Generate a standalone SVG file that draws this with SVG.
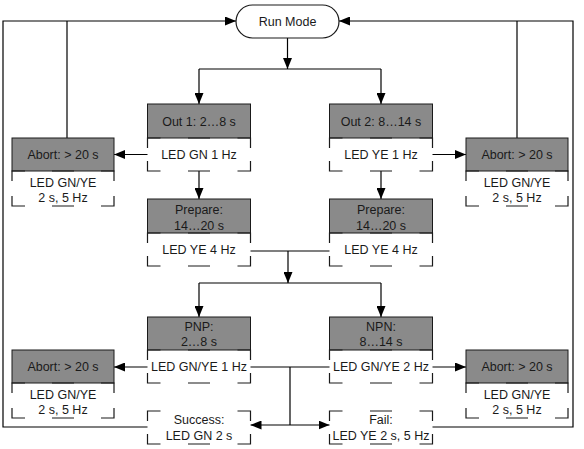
<svg xmlns="http://www.w3.org/2000/svg" width="584" height="449" viewBox="0 0 584 449">
<defs>
<marker id="arr" markerUnits="userSpaceOnUse" markerWidth="11" markerHeight="9" refX="11" refY="4.5" orient="auto">
<path d="M0,0 L11,4.5 L0,9 z" fill="#000"/>
</marker>
<style>
.g{fill:#8a8a8a;stroke:#1a1a1a;stroke-width:1}
.d{fill:none;stroke:#1a1a1a;stroke-width:1.2}
.t{font-family:"Liberation Sans",Arial,sans-serif;font-size:12.5px;fill:#1a1a1a;text-anchor:middle}
.c{fill:none;stroke:#000;stroke-width:1.2}
.a{marker-end:url(#arr)}
</style>
</defs>
<rect width="584" height="449" fill="#fff"/>
<g id="connectors">
<path class="c a" d="M147.5,427 H3 V21 H236"/>
<path class="c" d="M67,138 V21"/>
<path class="c a" d="M432.5,427 H573 V21 H339"/>
<path class="c" d="M517,138 V21"/>
<path class="c a" d="M287.5,38 V69"/>
<path class="c" d="M199,69 H381"/>
<path class="c a" d="M199,69 V104"/>
<path class="c a" d="M381,69 V104"/>
<path class="c a" d="M147.5,154.5 H114"/>
<path class="c a" d="M432.5,154.5 H466"/>
<path class="c a" d="M199,171 V199"/>
<path class="c a" d="M381,171 V199"/>
<path class="c" d="M250.5,251 H329.5"/>
<path class="c a" d="M288,251 V283"/>
<path class="c" d="M199,283 H381"/>
<path class="c a" d="M199,283 V317"/>
<path class="c a" d="M381,283 V317"/>
<path class="c a" d="M147.5,367 H114"/>
<path class="c a" d="M432.5,367 H466"/>
<path class="c" d="M250.5,367 H329.5 M290,367 V425"/>
<path class="c a" d="M290,425 H250.5"/>
<path class="c a" d="M290,425 H329.5"/>
</g>
<g id="run-mode">
<rect x="236" y="5" width="103" height="33" rx="16.5" fill="#fff" stroke="#1a1a1a" stroke-width="1.2"/>
<text class="t" x="287.5" y="26">Run Mode</text>
</g>
<g id="out1">
<rect class="g" x="147.5" y="104" width="103" height="34"/>
<text class="t" x="199" y="125.5">Out 1: 2…8 s</text>
<path class="d" d="M147.5,148V138H160.5M188,138h22M237.5,138H250.5V148M147.5,161V171H160.5M188,171h22M237.5,171H250.5V161"/>
<text class="t" x="199" y="159">LED GN 1 Hz</text>
</g>
<g id="out2">
<rect class="g" x="329.5" y="104" width="103" height="34"/>
<text class="t" x="381" y="125.5">Out 2: 8…14 s</text>
<path class="d" d="M329.5,148V138H342.5M370,138h22M419.5,138H432.5V148M329.5,161V171H342.5M370,171h22M419.5,171H432.5V161"/>
<text class="t" x="381" y="159">LED YE 1 Hz</text>
</g>
<g id="abort-top-left">
<rect class="g" x="12" y="138" width="102" height="33"/>
<text class="t" x="63" y="159">Abort: &gt; 20 s</text>
<path class="d" d="M12,181V171H25M52,171h22M101,171H114V181M12,196V206H25M52,206h22M101,206H114V196"/>
<text class="t" x="63" y="187">LED GN/YE</text>
<text class="t" x="63" y="202">2 s, 5 Hz</text>
</g>
<g id="abort-top-right">
<rect class="g" x="466" y="138" width="102" height="33"/>
<text class="t" x="517" y="159">Abort: &gt; 20 s</text>
<path class="d" d="M466,181V171H479M506,171h22M555,171H568V181M466,196V206H479M506,206h22M555,206H568V196"/>
<text class="t" x="517" y="187">LED GN/YE</text>
<text class="t" x="517" y="202">2 s, 5 Hz</text>
</g>
<g id="prepare1">
<rect class="g" x="147.5" y="199" width="103" height="34"/>
<text class="t" x="199" y="214">Prepare:</text>
<text class="t" x="199" y="229.5">14…20 s</text>
<path class="d" d="M147.5,243V233H160.5M188,233h22M237.5,233H250.5V243M147.5,256V266H160.5M188,266h22M237.5,266H250.5V256"/>
<text class="t" x="199" y="254">LED YE 4 Hz</text>
</g>
<g id="prepare2">
<rect class="g" x="329.5" y="199" width="103" height="34"/>
<text class="t" x="381" y="214">Prepare:</text>
<text class="t" x="381" y="229.5">14…20 s</text>
<path class="d" d="M329.5,243V233H342.5M370,233h22M419.5,233H432.5V243M329.5,256V266H342.5M370,266h22M419.5,266H432.5V256"/>
<text class="t" x="381" y="254">LED YE 4 Hz</text>
</g>
<g id="pnp">
<rect class="g" x="147.5" y="317" width="103" height="33"/>
<text class="t" x="199" y="331">PNP:</text>
<text class="t" x="199" y="346">2…8 s</text>
<path class="d" d="M147.5,360V350H160.5M188,350h22M237.5,350H250.5V360M147.5,373V383H160.5M188,383h22M237.5,383H250.5V373"/>
<text class="t" x="199" y="371">LED GN/YE 1 Hz</text>
</g>
<g id="npn">
<rect class="g" x="329.5" y="317" width="103" height="33"/>
<text class="t" x="381" y="331">NPN:</text>
<text class="t" x="381" y="346">8…14 s</text>
<path class="d" d="M329.5,360V350H342.5M370,350h22M419.5,350H432.5V360M329.5,373V383H342.5M370,383h22M419.5,383H432.5V373"/>
<text class="t" x="381" y="371">LED GN/YE 2 Hz</text>
</g>
<g id="abort-bottom-left">
<rect class="g" x="12" y="350" width="102" height="33"/>
<text class="t" x="63" y="371">Abort: &gt; 20 s</text>
<path class="d" d="M12,393V383H25M52,383h22M101,383H114V393M12,408V418H25M52,418h22M101,418H114V408"/>
<text class="t" x="63" y="399">LED GN/YE</text>
<text class="t" x="63" y="414">2 s, 5 Hz</text>
</g>
<g id="abort-bottom-right">
<rect class="g" x="466" y="350" width="102" height="33"/>
<text class="t" x="517" y="371">Abort: &gt; 20 s</text>
<path class="d" d="M466,393V383H479M506,383h22M555,383H568V393M466,408V418H479M506,418h22M555,418H568V408"/>
<text class="t" x="517" y="399">LED GN/YE</text>
<text class="t" x="517" y="414">2 s, 5 Hz</text>
</g>
<g id="success">
<path class="d" d="M147.5,421V411H160.5M237.5,411H250.5V421M147.5,434V444H160.5M188,444h22M237.5,444H250.5V434"/>
<text class="t" x="199" y="424">Success:</text>
<text class="t" x="199" y="440">LED GN 2 s</text>
</g>
<g id="fail">
<path class="d" d="M329.5,421V411H342.5M370,411h22M419.5,411H432.5V421M329.5,434V444H342.5M370,444h22M419.5,444H432.5V434"/>
<text class="t" x="381" y="424">Fail:</text>
<text class="t" x="381" y="440">LED YE 2 s, 5 Hz</text>
</g>
</svg>
